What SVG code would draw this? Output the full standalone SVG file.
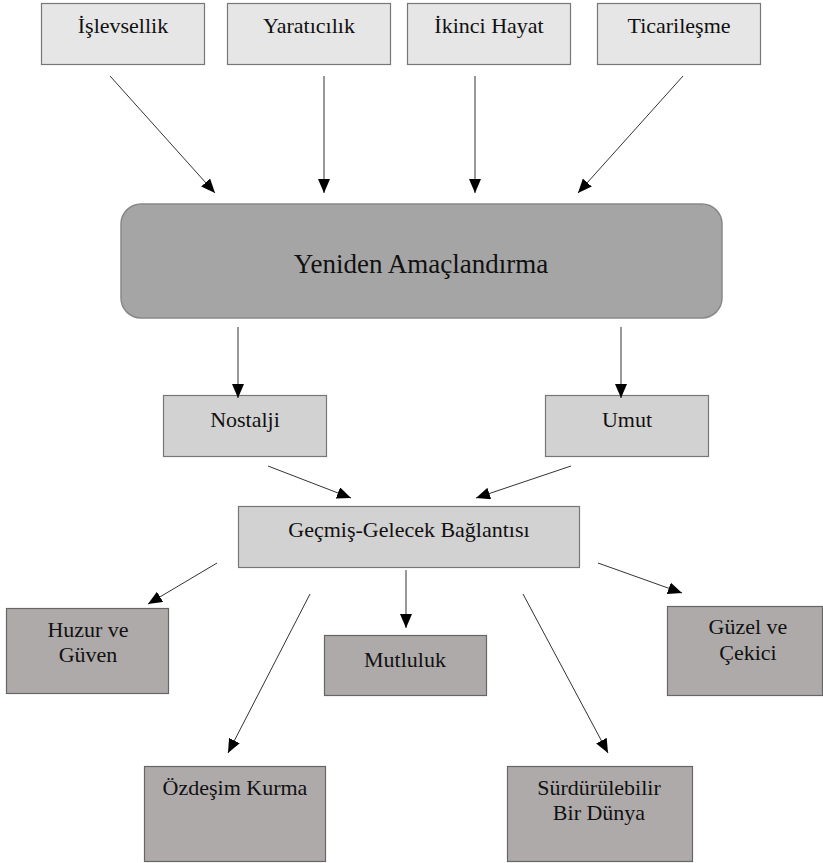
<svg xmlns="http://www.w3.org/2000/svg" width="823" height="863" viewBox="0 0 823 863">
<defs>
<marker id="ah" viewBox="0 0 14 12" refX="14" refY="6" markerWidth="14" markerHeight="12" markerUnits="userSpaceOnUse" orient="auto">
<path d="M0,0 L14,6 L0,12 Z" fill="#000"/>
</marker>
<style>
text{font-family:"Liberation Serif","Times New Roman",serif;fill:#111;text-anchor:middle}
.t{font-size:22px}
.top{fill:#e6e6e6;stroke:#777;stroke-width:1.2}
.mid{fill:#d3d2d2;stroke:#777;stroke-width:1.2}
.bot{fill:#aeaaaa;stroke:#666;stroke-width:1.2}
.big{fill:#a5a5a5;stroke:#888;stroke-width:1.5}
.c line{stroke:#333;stroke-width:1;marker-end:url(#ah)}
</style>
</defs>
<rect width="823" height="863" fill="#fff"/>
<g id="islevsellik"><rect class="top" x="41.5" y="3.5" width="163" height="61"/><text class="t" x="123" y="33">İşlevsellik</text></g>
<g id="yaraticilik"><rect class="top" x="227.5" y="3.5" width="163" height="61"/><text class="t" x="309" y="33">Yaratıcılık</text></g>
<g id="ikinci-hayat"><rect class="top" x="407.5" y="3.5" width="163" height="61"/><text class="t" x="489" y="33">İkinci Hayat</text></g>
<g id="ticarilesme"><rect class="top" x="597.5" y="3.5" width="163" height="61"/><text class="t" x="679" y="33">Ticarileşme</text></g>
<g id="yeniden"><rect class="big" x="121" y="204" width="601" height="114" rx="20" ry="20"/><text x="421" y="273" font-size="27">Yeniden Amaçlandırma</text></g>
<g id="nostalji"><rect class="mid" x="163.5" y="395.5" width="163" height="61"/><text class="t" x="245" y="427">Nostalji</text></g>
<g id="umut"><rect class="mid" x="545.5" y="395.5" width="163" height="61"/><text class="t" x="627" y="427">Umut</text></g>
<g id="gecmis-gelecek"><rect class="mid" x="238.5" y="506.5" width="341" height="61"/><text class="t" x="409" y="537">Geçmiş-Gelecek Bağlantısı</text></g>
<g id="huzur"><rect class="bot" x="6.5" y="608.5" width="162" height="85"/><text class="t" x="88" y="637">Huzur ve</text><text class="t" x="88" y="662">Güven</text></g>
<g id="mutluluk"><rect class="bot" x="324.5" y="635.5" width="162" height="60"/><text class="t" x="405" y="667">Mutluluk</text></g>
<g id="guzel"><rect class="bot" x="667.5" y="606.5" width="155" height="89"/><text class="t" x="748" y="634">Güzel ve</text><text class="t" x="748" y="660">Çekici</text></g>
<g id="ozdesim"><rect class="bot" x="144.5" y="766.5" width="181" height="95"/><text class="t" x="235" y="795">Özdeşim Kurma</text></g>
<g id="surdurulebilir"><rect class="bot" x="507.5" y="766.5" width="185" height="95"/><text class="t" x="599" y="795">Sürdürülebilir</text><text class="t" x="599" y="820">Bir Dünya</text></g>
<g id="connectors" class="c">
<line x1="110" y1="76" x2="215" y2="193"/>
<line x1="324" y1="76" x2="324" y2="193"/>
<line x1="475" y1="76" x2="475" y2="193"/>
<line x1="683" y1="76" x2="578" y2="193"/>
<line x1="238" y1="327" x2="238" y2="398"/>
<line x1="621" y1="327" x2="621" y2="398"/>
<line x1="268" y1="466" x2="351" y2="498"/>
<line x1="571" y1="466" x2="476" y2="498"/>
<line x1="217" y1="563" x2="148" y2="604"/>
<line x1="310" y1="594" x2="228" y2="753"/>
<line x1="406" y1="570" x2="406" y2="628"/>
<line x1="523" y1="594" x2="608" y2="753"/>
<line x1="598" y1="563" x2="682" y2="593"/>
</g>
</svg>
